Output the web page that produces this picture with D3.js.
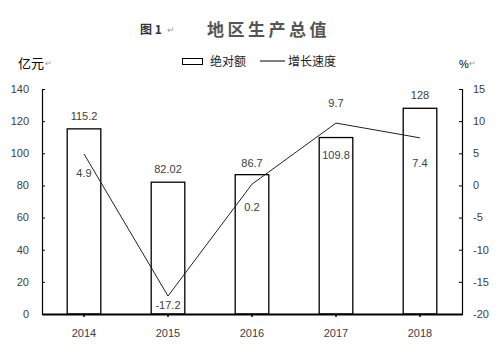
<!DOCTYPE html>
<html>
<head>
<meta charset="utf-8">
<script src="https://cdn.jsdelivr.net/npm/d3@7"></script>
<style>
    body { margin: 0; background: #fff; }
    text { font-family: "Liberation Sans", "Noto Sans CJK SC", sans-serif; }
    .cjk { font-family: "Noto Sans CJK SC", sans-serif; }
</style>
</head>
<body>
<svg id="chart"></svg>
<script>
// data
const years = ['2014', '2015', '2016', '2017', '2018'];
const amount = [115.2, 82.02, 86.7, 109.8, 128];
const amountText = ['115.2', '82.02', '86.7', '109.8', '128'];
const growth = [4.9, -17.2, 0.2, 9.7, 7.4];
const leftTicks = [0, 20, 40, 60, 80, 100, 120, 140];
const rightTicks = [-20, -15, -10, -5, 0, 5, 10, 15];

// label offsets (layout only)
const barLabelDy = [-13, -13, -12, 18, -13];
const lineLabelDy = [19, 9, 23, -20, 25];

const width = 498, height = 353;
const margin = {top: 89, right: 36, bottom: 39, left: 42};
const textColor = '#404040';

let svg = d3.select('#chart')
    .attr('width', width)
    .attr('height', height);

let x = d3.scaleBand()
    .domain(years)
    .range([margin.left, width - margin.right])
    .paddingInner(0.6)
    .paddingOuter(0.3);

let xc = d => x(d) + x.bandwidth() / 2;

let yL = d3.scaleLinear()
    .domain([0, 140])
    .range([height - margin.bottom, margin.top]);

let yR = d3.scaleLinear()
    .domain([-20, 15])
    .range([height - margin.bottom, margin.top]);

// title
svg.append('text')
    .attr('class', 'cjk')
    .attr('x', 140)
    .attr('y', 34)
    .attr('fill', '#333')
    .style('font-size', '12px')
    .style('font-weight', 'bold')
    .text('图 1');
svg.append('text')
    .attr('class', 'cjk')
    .attr('x', 167)
    .attr('y', 33)
    .attr('fill', '#999')
    .style('font-size', '9px')
    .text('↵');
svg.append('text')
    .attr('class', 'cjk')
    .attr('x', 207)
    .attr('y', 36)
    .attr('fill', '#555')
    .style('font-size', '17px')
    .style('font-weight', 'bold')
    .style('letter-spacing', '3.5px')
    .text('地区生产总值');

// unit labels
svg.append('text')
    .attr('class', 'cjk')
    .attr('x', 18)
    .attr('y', 68)
    .attr('fill', '#000')
    .style('font-size', '13px')
    .text('亿元');
svg.append('text')
    .attr('class', 'cjk')
    .attr('x', 45)
    .attr('y', 66)
    .attr('fill', '#999')
    .style('font-size', '8px')
    .text('↵');
svg.append('text')
    .attr('x', 459)
    .attr('y', 68)
    .attr('fill', '#000')
    .style('font-size', '11px')
    .text('%');
svg.append('text')
    .attr('class', 'cjk')
    .attr('x', 469)
    .attr('y', 66)
    .attr('fill', '#999')
    .style('font-size', '8px')
    .text('↵');

// legend
let legend = svg.append('g');
legend.append('rect')
    .attr('x', 182.5)
    .attr('y', 58.5)
    .attr('width', 20)
    .attr('height', 6)
    .attr('fill', 'white')
    .attr('stroke', 'black')
    .attr('stroke-width', 1);
legend.append('text')
    .attr('class', 'cjk')
    .attr('x', 210)
    .attr('y', 66)
    .attr('fill', '#222')
    .style('font-size', '12px')
    .text('绝对额');
legend.append('line')
    .attr('x1', 260).attr('x2', 285)
    .attr('y1', 61).attr('y2', 61)
    .attr('stroke', 'black')
    .attr('stroke-width', 1);
legend.append('text')
    .attr('class', 'cjk')
    .attr('x', 288)
    .attr('y', 66)
    .attr('fill', '#222')
    .style('font-size', '12px')
    .text('增长速度');

// axes
let leftAxis = svg.append('g')
    .attr('transform', `translate(${margin.left},0)`)
    .call(d3.axisRight(yL).tickValues(leftTicks).tickSize(3).tickFormat(''));
let rightAxis = svg.append('g')
    .attr('transform', `translate(${width - margin.right},0)`)
    .call(d3.axisLeft(yR).tickValues(rightTicks).tickSize(3).tickFormat(''));
[leftAxis, rightAxis].forEach(a => {
    a.select('.domain').attr('stroke', 'black').attr('stroke-width', 1.2);
    a.selectAll('.tick line').attr('stroke', 'black');
});

svg.selectAll('.ltick')
    .data(leftTicks)
    .enter()
    .append('text')
    .attr('x', 29)
    .attr('y', d => yL(d))
    .attr('dy', '0.35em')
    .attr('text-anchor', 'end')
    .attr('fill', textColor)
    .style('font-size', '11px')
    .text(d => d);

svg.selectAll('.rtick')
    .data(rightTicks)
    .enter()
    .append('text')
    .attr('x', 473)
    .attr('y', d => yR(d))
    .attr('dy', '0.35em')
    .attr('fill', textColor)
    .style('font-size', '11px')
    .text(d => d);

// bars
svg.selectAll('.bar')
    .data(amount)
    .enter()
    .append('rect')
    .attr('x', (d, i) => x(years[i]))
    .attr('y', d => yL(d))
    .attr('width', x.bandwidth())
    .attr('height', d => yL(0) - yL(d))
    .attr('fill', 'white')
    .attr('stroke', 'black')
    .attr('stroke-width', 1.3);

// bottom axis
let bottomAxis = svg.append('g')
    .attr('transform', `translate(0,${yL(0)})`)
    .call(d3.axisBottom(x).tickSize(3).tickSizeOuter(0).tickFormat(''));
bottomAxis.select('.domain').attr('stroke', 'black').attr('stroke-width', 2);
bottomAxis.selectAll('.tick line').attr('stroke', 'black').attr('stroke-width', 1.5);

svg.selectAll('.xlabel')
    .data(years)
    .enter()
    .append('text')
    .attr('x', d => xc(d))
    .attr('y', 337)
    .attr('text-anchor', 'middle')
    .attr('fill', textColor)
    .style('font-size', '11px')
    .text(d => d);

// growth line
let line = d3.line()
    .x((d, i) => xc(years[i]))
    .y(d => yR(d));

svg.append('path')
    .datum(growth)
    .attr('d', line)
    .attr('fill', 'none')
    .attr('stroke', '#222')
    .attr('stroke-width', 1);

// labels
svg.selectAll('.blabel')
    .data(amount)
    .enter()
    .append('text')
    .attr('x', (d, i) => xc(years[i]))
    .attr('y', (d, i) => yL(d) + barLabelDy[i])
    .attr('dy', '0.35em')
    .attr('text-anchor', 'middle')
    .attr('fill', textColor)
    .style('font-size', '11px')
    .text((d, i) => amountText[i]);

svg.selectAll('.glabel')
    .data(growth)
    .enter()
    .append('text')
    .attr('x', (d, i) => xc(years[i]))
    .attr('y', (d, i) => yR(d) + lineLabelDy[i])
    .attr('dy', '0.35em')
    .attr('text-anchor', 'middle')
    .attr('fill', textColor)
    .style('font-size', '11px')
    .text(d => d);
</script>
</body>
</html>
